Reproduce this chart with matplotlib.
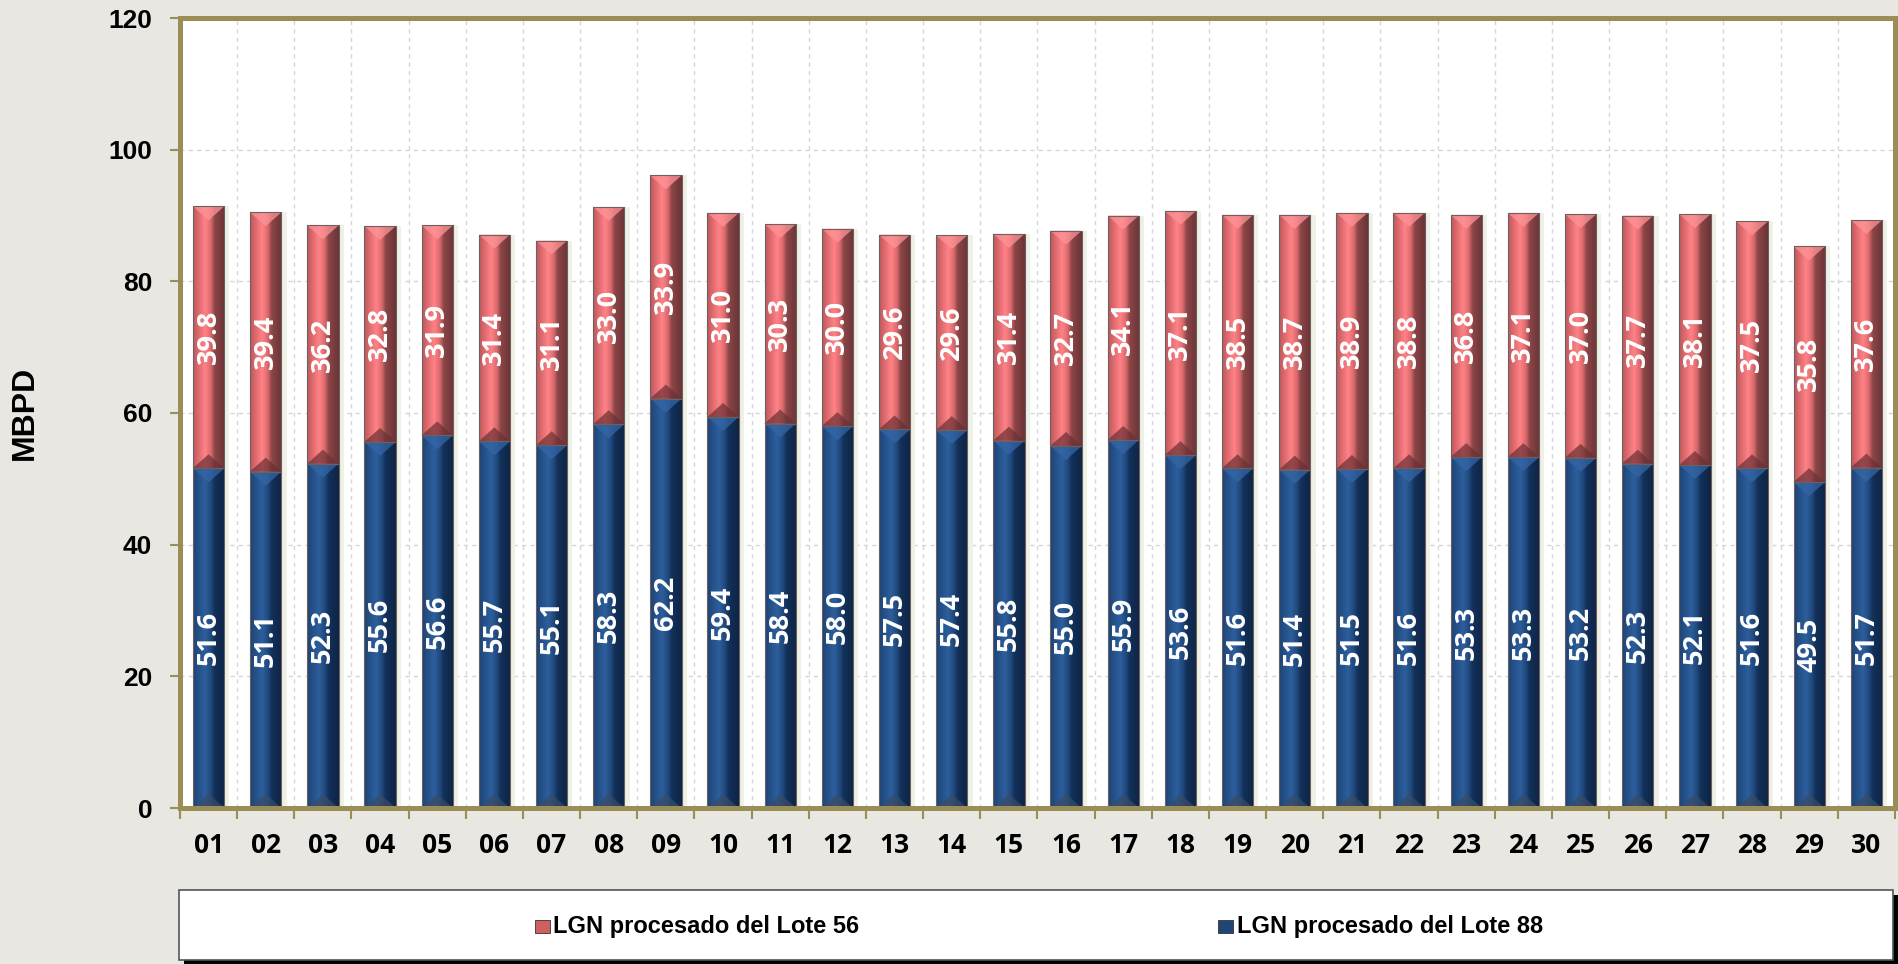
import matplotlib

matplotlib.use("Agg")
import matplotlib.pyplot as plt
import numpy as np
from matplotlib.colors import LinearSegmentedColormap
from matplotlib.patches import Polygon, Rectangle

# daily processed LGN, MBPD
days = [f"{d:02d}" for d in range(1, 31)]
lote88 = [51.6, 51.1, 52.3, 55.6, 56.6, 55.7, 55.1, 58.3, 62.2, 59.4,
          58.4, 58.0, 57.5, 57.4, 55.8, 55.0, 55.9, 53.6, 51.6, 51.4,
          51.5, 51.6, 53.3, 53.3, 53.2, 52.3, 52.1, 51.6, 49.5, 51.7]
lote56 = [39.8, 39.4, 36.2, 32.8, 31.9, 31.4, 31.1, 33.0, 33.9, 31.0,
          30.3, 30.0, 29.6, 29.6, 31.4, 32.7, 34.1, 37.1, 38.5, 38.7,
          38.9, 38.8, 36.8, 37.1, 37.0, 37.7, 38.1, 37.5, 35.8, 37.6]
yticks = [0, 20, 40, 60, 80, 100, 120]
labels = ["LGN procesado del Lote 56", "LGN procesado del Lote 88"]

BG = "#e8e7e2"
OLIVE = "#9a8d56"
RED = "#d0605f"
BLUE = "#1f4676"
ARIAL = ["Liberation Sans", "DejaVu Sans"]
CALIBRI = ["Open Sans", "DejaVu Sans"]

red_cmap = LinearSegmentedColormap.from_list(
    "red3d", [(0, "#b9585b"), (0.12, "#d56468"), (0.38, "#ff8286"),
              (0.56, "#dc6a6d"), (0.68, "#8c4648"), (1, "#6a3335")])
blue_cmap = LinearSegmentedColormap.from_list(
    "blue3d", [(0, "#1c4272"), (0.12, "#224d84"), (0.38, "#2d5f9c"),
               (0.56, "#214a7e"), (0.68, "#13315a"), (1, "#0e2444")])

W, H = 1899, 964
fig = plt.figure(figsize=(W / 100, H / 100), dpi=100, facecolor=BG)
ax = fig.add_axes([180 / W, 1 - 808 / H, (1895 - 180) / W, (808 - 18) / H])
ax.set_facecolor("white")

x = np.arange(len(days))
width = 0.55
b88 = np.array(lote88)
b56 = np.array(lote56)

# soft shadow on the right of each column
ax.bar(x + 0.09, b88 + b56, width, color="#eef1e6", zorder=1.5, lw=0)

bars88 = ax.bar(x, b88, width, color=BLUE, zorder=2, lw=0)
bars56 = ax.bar(x, b56, width, bottom=b88, color=RED, zorder=2, lw=0)

grad = np.linspace(0, 1, 128).reshape(1, -1)
px_per_unit = (808 - 18) / 120.0
bevel = 14 / px_per_unit
for patches, cmap, top_c, bot_c in [
    (bars88, blue_cmap, "#3466a6", "#3a4b66"),
    (bars56, red_cmap, "#ff9397", "#6a3033"),
]:
    for p in patches:
        x0, y0, w, h = p.get_x(), p.get_y(), p.get_width(), p.get_height()
        im = ax.imshow(grad, cmap=cmap, extent=(x0, x0 + w, y0, y0 + h),
                       aspect="auto", zorder=2.2, interpolation="bilinear")
        im.set_clip_path(p)
        xc = x0 + w / 2
        ax.add_patch(Polygon([(x0, y0 + h), (x0 + w, y0 + h), (xc, y0 + h - bevel)],
                             closed=True, color=top_c, alpha=0.75, lw=0, zorder=2.4))
        ax.add_patch(Polygon([(x0, y0), (x0 + w, y0), (xc, y0 + bevel)],
                             closed=True, color=bot_c, alpha=0.7, lw=0, zorder=2.4))
        ax.add_patch(Rectangle((x0, y0), w, h, fill=False, ec="#6e5f60",
                               lw=0.8, zorder=2.6))

for i in range(len(days)):
    ax.text(x[i], b88[i] / 2, f"{b88[i]:.1f}", rotation=90, ha="center",
            va="center", color="white", fontsize=19.5, fontweight="bold",
            family=CALIBRI, zorder=5)
    ax.text(x[i], b88[i] + b56[i] / 2, f"{b56[i]:.1f}", rotation=90,
            ha="center", va="center", color="white", fontsize=19.5,
            fontweight="bold", family=CALIBRI, zorder=5)

ax.set_xlim(-0.5, len(days) - 0.5)
ax.set_ylim(0, 120)
ax.set_yticks(yticks)
ax.set_yticklabels([str(v) for v in yticks], fontsize=19, fontweight="bold",
                   family=ARIAL)
ax.set_xticks(x)
ax.set_xticklabels(days, fontsize=19, fontweight="bold", family=CALIBRI)
ax.set_xticks(np.arange(-0.5, len(days)), minor=True)
ax.tick_params(axis="x", which="major", length=0, pad=17)
ax.tick_params(axis="x", which="minor", length=8, width=1.5, color=OLIVE)
ax.tick_params(axis="y", length=7, width=1.5, color=OLIVE, pad=13)

ax.grid(axis="x", which="minor", ls=(0, (3, 3)), color="#d6d6d6", lw=1)
ax.grid(axis="y", which="major", ls=(0, (3, 3)), color="#d6d6d6", lw=1)
ax.set_axisbelow(True)
for s in ax.spines.values():
    s.set_color(OLIVE)
    s.set_linewidth(3.6)
    s.set_zorder(6)

ax.set_ylabel("MBPD", fontsize=23, fontweight="bold", family=ARIAL, labelpad=49)

# legend box with drop shadow
fig.add_artist(Rectangle((184 / W, 0), (1899 - 184) / W, (964 - 895) / H,
                         transform=fig.transFigure, color="black", lw=0))
fig.add_artist(Rectangle((179 / W, 1 - 960 / H), (1893 - 179) / W, 70 / H,
                         transform=fig.transFigure, facecolor="white",
                         edgecolor="#555555", lw=1.2))
for mx, tx, col, lab in [(535, 553, RED, labels[0]), (1218, 1237, BLUE, labels[1])]:
    fig.add_artist(Rectangle((mx / W, 1 - 933 / H), 15 / W, 13 / H,
                             transform=fig.transFigure, facecolor=col,
                             edgecolor="#333333", lw=0.6))
    fig.text(tx / W, 1 - 926 / H, lab, ha="left", va="center", fontsize=17,
             fontweight="bold", family=ARIAL)

fig.savefig("out.png", dpi=100, facecolor=BG)
